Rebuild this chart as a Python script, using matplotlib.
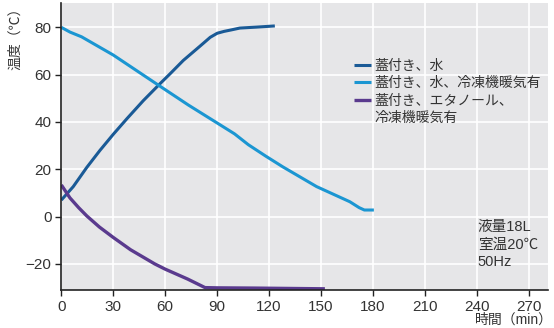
import matplotlib.pyplot as plt
from matplotlib.lines import Line2D

plt.rcParams['font.family'] = ['Liberation Sans', 'Noto Sans CJK JP']

# 蓋付き、水
t_water = [0, 6.9, 14.7, 22.3, 30, 38, 47.3, 57, 62.7, 70.4, 80, 86, 90, 94, 98, 103.1, 112.7, 123.3]
T_water = [7.0, 12.7, 20.8, 28.0, 34.8, 41.5, 49.0, 56.2, 60.3, 66.0, 72.0, 75.8, 77.5, 78.3, 78.9, 79.7, 80.1, 80.6]

# 蓋付き、水、冷凍機暖気有
t_water_heat = [0, 5, 11.7, 30, 56, 73.3, 90.6, 100, 108, 118, 128, 147.4, 166.6, 172, 175, 180.5]
T_water_heat = [80, 78, 76, 68.3, 55.6, 47.2, 39.3, 35.0, 30.4, 25.6, 21.0, 12.7, 6.3, 3.8, 2.8, 2.8]

# 蓋付き、エタノール、冷凍機暖気有
t_eth = [0, 5, 10, 14.7, 22, 30, 40, 54, 60, 73, 83, 90, 111.8, 152.2]
T_eth = [13.4, 7.9, 3.8, 0.3, -4.4, -8.8, -14.0, -20.0, -22.2, -26.4, -30.0, -30.1, -30.2, -30.5]

xticks = [0, 30, 60, 90, 120, 150, 180, 210, 240, 270]
yticks = [-20, 0, 20, 40, 60, 80]

labels = ['蓋付き、水', '蓋付き、水、冷凍機暖気有', '蓋付き、エタノール、', '冷凍機暖気有']
colors = ['#1a5a96', '#1b96d2', '#5a3a8e']

fig = plt.figure(figsize=(5.54, 3.28), dpi=100)
ax = fig.add_axes([0.1107, 0.1159, 0.8783, 0.875])
ax.set_facecolor('#e6e6e8')

l1, = ax.plot(t_water, T_water, color=colors[0], lw=2.2, solid_capstyle='butt')
l2, = ax.plot(t_water_heat, T_water_heat, color=colors[1], lw=2.2, solid_capstyle='butt')
l3, = ax.plot(t_eth, T_eth, color=colors[2], lw=2.4, solid_capstyle='butt')

ax.set_xlim(0, 281)
ax.set_ylim(-31, 90.3)
ax.set_xticks(xticks)
ax.set_yticks(yticks)
ax.set_yticklabels(['\u221220' if v == -20 else str(v) for v in yticks])
ax.grid(True, color='white', lw=1.2)
ax.set_axisbelow(True)
for s in ['top', 'right']:
    ax.spines[s].set_visible(False)
for s in ['left', 'bottom']:
    ax.spines[s].set_color('#222222')
    ax.spines[s].set_linewidth(1.2)
ax.tick_params(direction='out', length=4, width=1, color='#222222',
               labelsize=11, labelcolor='#333333', pad=3)

blank = Line2D([], [], color='none')
leg = ax.legend([l1, l2, l3, blank], labels, loc='upper left',
                bbox_to_anchor=(0.59, 0.825), frameon=False,
                fontsize=10, handlelength=1.2, handletextpad=0.25,
                labelspacing=0.25, borderaxespad=0)
for txt in leg.get_texts():
    txt.set_color('#333333')

ax.text(0.856, 0.243, '液量18L\n室温20℃\n50Hz', transform=ax.transAxes,
        fontsize=10.5, color='#333333', va='top', ha='left', linespacing=1.3)

fig.text(0.998, 0.005, '時間（min）', ha='right', va='bottom', fontsize=10, color='#333333')
fig.text(0.027, 0.893, '温度（℃）', rotation=90, ha='center', va='center',
         fontsize=10, color='#333333')

fig.savefig('out.png', dpi=100)
